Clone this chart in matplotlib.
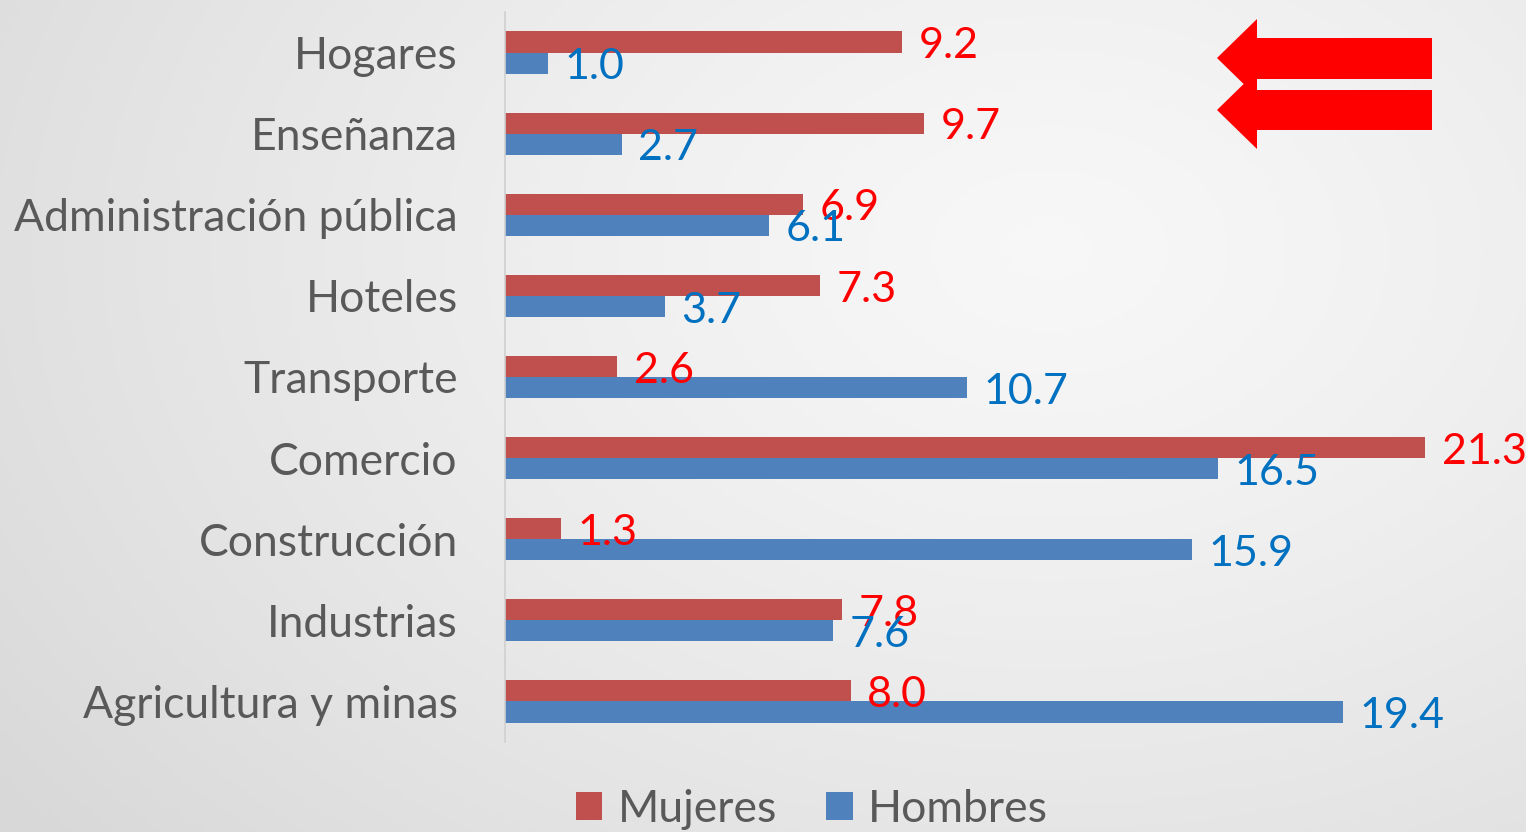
import numpy as np
import matplotlib.pyplot as plt
from matplotlib.patches import Polygon

plt.rcParams['font.family'] = ['Lato', 'DejaVu Sans']

# datos (de arriba hacia abajo)
sectores = ["Hogares", "Enseñanza", "Administración pública", "Hoteles",
            "Transporte", "Comercio", "Construcción", "Industrias",
            "Agricultura y minas"]
mujeres = [9.2, 9.7, 6.9, 7.3, 2.6, 21.3, 1.3, 7.8, 8.0]
hombres = [1.0, 2.7, 6.1, 3.7, 10.7, 16.5, 15.9, 7.6, 19.4]

c_muj = "#C0504D"
c_hom = "#4F81BD"
W, H = 1526, 832

fig = plt.figure(figsize=(W / 100, H / 100), dpi=100)

# fondo con degradado radial
bg = fig.add_axes([0, 0, 1, 1], zorder=-10)
xx, yy = np.meshgrid(np.linspace(0, W, 400), np.linspace(0, H, 220))
r = np.sqrt(((xx - 1050) / 1300) ** 2 + ((yy - 250) / 900) ** 2)
r = np.clip(r, 0, 1)
g = 0.97 - 0.12 * r ** 1.3
bg.imshow(np.dstack([g, g, g]), extent=[0, W, H, 0], aspect='auto')
bg.axis('off')

ax = fig.add_axes([505 / W, (H - 742) / H, (W - 505) / W, 730 / H])
ax.patch.set_alpha(0)

y = np.arange(len(sectores))
h = 0.26
ax.barh(y - h / 2, mujeres, height=h, color=c_muj, label="Mujeres")
ax.barh(y + h / 2, hombres, height=h, color=c_hom, label="Hombres")

for i in range(len(sectores)):
    ax.annotate(f"{mujeres[i]:.1f}", (mujeres[i], y[i] - h / 2), xytext=(12, -3),
                textcoords='offset points', va='center', ha='left',
                color="#FF0000", fontsize=31, annotation_clip=False)
    ax.annotate(f"{hombres[i]:.1f}", (hombres[i], y[i] + h / 2), xytext=(12, -3),
                textcoords='offset points', va='center', ha='left',
                color="#0070C0", fontsize=31, annotation_clip=False)

ax.set_xlim(0, (W - 505) / 43.2)
ax.set_ylim(len(sectores) - 0.5, -0.5)
ax.set_yticks(y)
ax.set_yticklabels(sectores, fontsize=32, color="#595959")
ax.tick_params(axis='y', length=0, pad=34)
ax.set_xticks([])
for s in ['top', 'right', 'bottom']:
    ax.spines[s].set_visible(False)
ax.spines['left'].set_color("#D0D0D0")
ax.spines['left'].set_linewidth(1.2)

fig.legend(loc='center', bbox_to_anchor=(812 / W, 1 - 809 / H), ncol=2,
           frameon=False, fontsize=32, labelcolor="#595959",
           handlelength=0.6, handleheight=0.6, handletextpad=0.35,
           columnspacing=1.1)

# flechas rojas
flechas = [
    [(1217, 58), (1257, 19), (1257, 38), (1432, 38), (1432, 79), (1257, 79), (1257, 97)],
    [(1217, 110), (1257, 71), (1257, 90), (1432, 90), (1432, 130), (1257, 130), (1257, 149)],
]
for f in flechas:
    pts = [(px / W, 1 - py / H) for px, py in f]
    fig.patches.append(Polygon(pts, closed=True, transform=fig.transFigure,
                               facecolor="#FF0000", edgecolor="none"))

fig.savefig("out.png", dpi=100)
